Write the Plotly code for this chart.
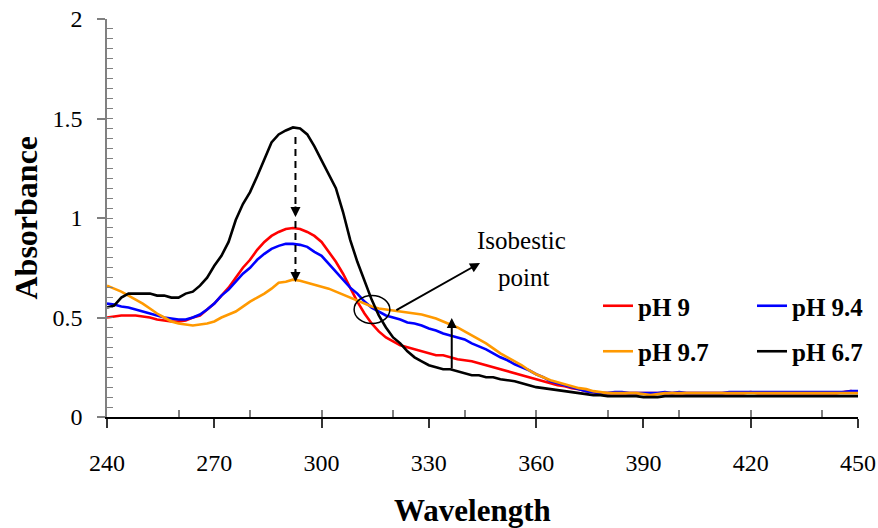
import plotly.graph_objects as go

# Wavelength axis (nm), sampled every 2 nm
wavelength = list(range(240, 452, 2))

# Absorbance spectra
ph_9 = [
    0.50, 0.505, 0.51, 0.51, 0.51, 0.505, 0.50, 0.49, 0.485, 0.48,   # 240-258
    0.48, 0.485, 0.50, 0.51, 0.54, 0.57, 0.61, 0.65, 0.70, 0.75,     # 260-278
    0.79, 0.84, 0.88, 0.91, 0.93, 0.945, 0.95, 0.945, 0.93, 0.91,    # 280-298
    0.88, 0.83, 0.78, 0.72, 0.65, 0.58, 0.52, 0.47, 0.43, 0.40,      # 300-318
    0.38, 0.36, 0.35, 0.34, 0.33, 0.32, 0.31, 0.31, 0.30, 0.29,      # 320-338
    0.285, 0.28, 0.27, 0.26, 0.25, 0.24, 0.23, 0.22, 0.21, 0.20,     # 340-358
    0.19, 0.18, 0.17, 0.16, 0.155, 0.145, 0.14, 0.13, 0.125, 0.12,   # 360-378
    0.12, 0.12, 0.12, 0.12, 0.12, 0.12, 0.12, 0.12, 0.12, 0.12,      # 380-398
    0.12, 0.12, 0.12, 0.12, 0.12, 0.12, 0.12, 0.12, 0.12, 0.12,      # 400-418
    0.125, 0.12, 0.12, 0.12, 0.12, 0.12, 0.12, 0.12, 0.12, 0.12,     # 420-438
    0.12, 0.12, 0.12, 0.125, 0.13, 0.125,                            # 440-450
]

ph_9_4 = [
    0.57, 0.565, 0.555, 0.55, 0.54, 0.53, 0.52, 0.51, 0.50, 0.495,   # 240-258
    0.49, 0.49, 0.50, 0.515, 0.54, 0.57, 0.61, 0.64, 0.68, 0.72,     # 260-278
    0.75, 0.79, 0.82, 0.845, 0.86, 0.87, 0.87, 0.865, 0.855, 0.83,   # 280-298
    0.81, 0.77, 0.73, 0.69, 0.65, 0.62, 0.58, 0.55, 0.53, 0.51,      # 300-318
    0.50, 0.49, 0.475, 0.47, 0.46, 0.445, 0.435, 0.42, 0.41, 0.40,   # 320-338
    0.39, 0.37, 0.355, 0.34, 0.32, 0.30, 0.285, 0.265, 0.25, 0.235,  # 340-358
    0.215, 0.20, 0.18, 0.17, 0.16, 0.15, 0.14, 0.13, 0.125, 0.12,    # 360-378
    0.12, 0.125, 0.125, 0.12, 0.12, 0.12, 0.12, 0.12, 0.125, 0.12,   # 380-398
    0.125, 0.12, 0.12, 0.12, 0.12, 0.12, 0.12, 0.125, 0.125, 0.125,  # 400-418
    0.125, 0.125, 0.125, 0.125, 0.125, 0.125, 0.125, 0.125, 0.125, 0.125,  # 420-438
    0.125, 0.125, 0.125, 0.125, 0.13, 0.13,                          # 440-450
]

ph_9_7 = [
    0.66, 0.645, 0.63, 0.61, 0.59, 0.57, 0.545, 0.52, 0.50, 0.48,    # 240-258
    0.47, 0.465, 0.46, 0.465, 0.47, 0.48, 0.50, 0.515, 0.53, 0.555,  # 260-278
    0.58, 0.60, 0.62, 0.645, 0.675, 0.68, 0.69, 0.685, 0.675, 0.665, # 280-298
    0.655, 0.645, 0.63, 0.615, 0.60, 0.585, 0.57, 0.555, 0.545, 0.54,  # 300-318
    0.535, 0.53, 0.525, 0.52, 0.515, 0.505, 0.495, 0.48, 0.465, 0.45,  # 320-338
    0.43, 0.41, 0.39, 0.37, 0.345, 0.32, 0.30, 0.28, 0.26, 0.235,    # 340-358
    0.215, 0.20, 0.185, 0.175, 0.165, 0.155, 0.145, 0.14, 0.13, 0.125,  # 360-378
    0.12, 0.12, 0.12, 0.12, 0.12, 0.115, 0.11, 0.115, 0.12, 0.12,    # 380-398
    0.12, 0.12, 0.12, 0.12, 0.12, 0.12, 0.12, 0.12, 0.12, 0.12,      # 400-418
    0.12, 0.12, 0.12, 0.12, 0.12, 0.12, 0.12, 0.12, 0.12, 0.12,      # 420-438
    0.12, 0.12, 0.12, 0.12, 0.12, 0.12,                              # 440-450
]

ph_6_7 = [
    0.55, 0.56, 0.60, 0.62, 0.62, 0.62, 0.62, 0.61, 0.61, 0.60,      # 240-258
    0.60, 0.62, 0.63, 0.66, 0.70, 0.76, 0.81, 0.88, 0.99, 1.07,      # 260-278
    1.13, 1.21, 1.30, 1.38, 1.42, 1.44, 1.455, 1.45, 1.42, 1.36,     # 280-298
    1.29, 1.22, 1.15, 1.03, 0.89, 0.78, 0.68, 0.59, 0.51, 0.45,      # 300-318
    0.40, 0.37, 0.33, 0.30, 0.28, 0.26, 0.25, 0.24, 0.24, 0.23,      # 320-338
    0.22, 0.21, 0.21, 0.20, 0.20, 0.19, 0.185, 0.18, 0.17, 0.16,     # 340-358
    0.15, 0.145, 0.14, 0.135, 0.13, 0.125, 0.12, 0.115, 0.11, 0.11,  # 360-378
    0.105, 0.105, 0.105, 0.105, 0.105, 0.10, 0.10, 0.10, 0.105, 0.105,  # 380-398
    0.105, 0.105, 0.105, 0.105, 0.105, 0.105, 0.105, 0.105, 0.105, 0.105,  # 400-418
    0.105, 0.105, 0.105, 0.105, 0.105, 0.105, 0.105, 0.105, 0.105, 0.105,  # 420-438
    0.105, 0.105, 0.105, 0.105, 0.105, 0.105,                        # 440-450
]

series_names = ["pH 9", "pH 9.4", "pH 9.7", "pH 6.7"]
series_values = [ph_9, ph_9_4, ph_9_7, ph_6_7]
series_colors = ["#FF0000", "#0000FF", "#FF9900", "#000000"]
series_legend = ["legend", "legend2", "legend", "legend2"]

x_ticks = [240, 270, 300, 330, 360, 390, 420, 450]
y_ticks = [0, 0.5, 1, 1.5, 2]

SERIF = "Liberation Serif"

fig = go.Figure()

for name, vals, color, leg in zip(series_names, series_values, series_colors, series_legend):
    fig.add_trace(go.Scatter(
        x=wavelength, y=vals, name=name, mode="lines",
        line=dict(color=color, width=2.6),
        legend=leg, legendgroup=name,
    ))

# empty trace carrying the secondary (inside-tick) axes
fig.add_trace(go.Scatter(x=[], y=[], xaxis="x2", yaxis="y2",
                         showlegend=False, hoverinfo="skip"))

# peak shift markers: dashed arrows at the absorption maximum
peak_x = 292.7
dash_segments = [(1.407, 1.03), (0.985, 0.70)]
for y_top, y_bot in dash_segments:
    fig.add_shape(type="line", x0=peak_x, x1=peak_x, y0=y_top, y1=y_bot,
                  xref="x", yref="y", line=dict(color="black", width=2, dash="7px,5px"))
for tip in [1.005, 0.678]:
    fig.add_annotation(x=peak_x, y=tip, ax=0, ay=-12, xref="x", yref="y",
                       text="", showarrow=True, arrowhead=2, arrowsize=1,
                       arrowwidth=2, arrowcolor="black")

# rising shoulder arrow
fig.add_annotation(x=336.4, y=0.497, ax=336.4, ay=0.236, xref="x", yref="y",
                   axref="x", ayref="y", text="", showarrow=True, arrowhead=2,
                   arrowsize=1, arrowwidth=2, arrowcolor="black")

# isosbestic crossing: ellipse and pointer
fig.add_shape(type="circle", x0=309.1, x1=319.1, y0=0.47, y1=0.61,
              xref="x", yref="y", line=dict(color="black", width=1.5))
fig.add_annotation(x=344.3, y=0.774, ax=320.5, ay=0.533, xref="x", yref="y",
                   axref="x", ayref="y", text="", showarrow=True, arrowhead=2,
                   arrowsize=1, arrowwidth=2, arrowcolor="black")
fig.add_annotation(x=356.0, y=0.887, xref="x", yref="y", text="Isobestic",
                   xanchor="center", yanchor="middle", showarrow=False,
                   font=dict(family=SERIF, size=25, color="black"))
fig.add_annotation(x=356.4, y=0.701, xref="x", yref="y", text="point",
                   xanchor="center", yanchor="middle", showarrow=False,
                   font=dict(family=SERIF, size=25, color="black"))

# axis titles (positions given in pixels, converted to paper units below)
fig.add_annotation(x=472, y=510, xref="paper", yref="paper", text="Wavelength",
                   xanchor="center", yanchor="middle", showarrow=False,
                   font=dict(family=SERIF, size=31, color="black", weight="bold"))
fig.add_annotation(x=25, y=217.5, xref="paper", yref="paper", text="Absorbance",
                   xanchor="center", yanchor="middle", textangle=-90, showarrow=False,
                   font=dict(family=SERIF, size=32, color="black", weight="bold"))

W, H = 878, 528
L, R, T, B = 107, 20, 19, 111
pw, ph = W - L - R, H - T - B


def px_to_paper(a):
    a["x"] = (a["x"] - L) / pw
    a["y"] = (H - B - a["y"]) / ph


for a in fig.layout.annotations:
    if a.xref == "paper":
        px_to_paper(a)

tick_font = dict(family=SERIF, size=24, color="black")
legend_font = dict(family=SERIF, size=25, color="black", weight="bold")

fig.update_layout(
    width=W, height=H,
    margin=dict(l=L, r=R, t=T, b=B, autoexpand=False),
    paper_bgcolor="white", plot_bgcolor="white",
    xaxis=dict(range=[240, 450], tickvals=x_ticks, ticks="outside", ticklen=9,
               tickwidth=1.5, tickcolor="#333333", showline=True, linecolor="black",
               linewidth=1.5, showgrid=False, zeroline=False, tickfont=tick_font,
               ticklabelstandoff=14),
    yaxis=dict(range=[0, 2], tickvals=y_ticks, ticktext=["0", "0.5", "1", "1.5", "2"],
               ticks="outside", ticklen=8, tickwidth=1.5, tickcolor="#808080",
               showline=True, linecolor="#808080", linewidth=1.5, showgrid=False,
               zeroline=False, tickfont=tick_font, ticklabelstandoff=10),
    xaxis2=dict(range=[240, 450], overlaying="x", anchor="y2", tick0=240, dtick=20,
                ticks="inside", ticklen=7, tickwidth=1.5, tickcolor="#808080",
                showticklabels=False, showline=False, showgrid=False, zeroline=False),
    yaxis2=dict(range=[0, 2], overlaying="y", anchor="x2", side="left", tick0=0,
                dtick=0.05, ticks="inside", ticklen=6, tickwidth=1.2, tickcolor="#808080",
                showticklabels=False, showline=False, showgrid=False, zeroline=False),
    legend=dict(x=(598 - L) / pw, y=(H - B - 283) / ph, xanchor="left", yanchor="top",
                bgcolor="rgba(0,0,0,0)", font=legend_font, tracegroupgap=10,
                traceorder="grouped"),
    legend2=dict(x=(752 - L) / pw, y=(H - B - 283) / ph, xanchor="left", yanchor="top",
                 bgcolor="rgba(0,0,0,0)", font=legend_font, tracegroupgap=10,
                 traceorder="grouped"),
    showlegend=True,
)

fig.write_html("out.html")
